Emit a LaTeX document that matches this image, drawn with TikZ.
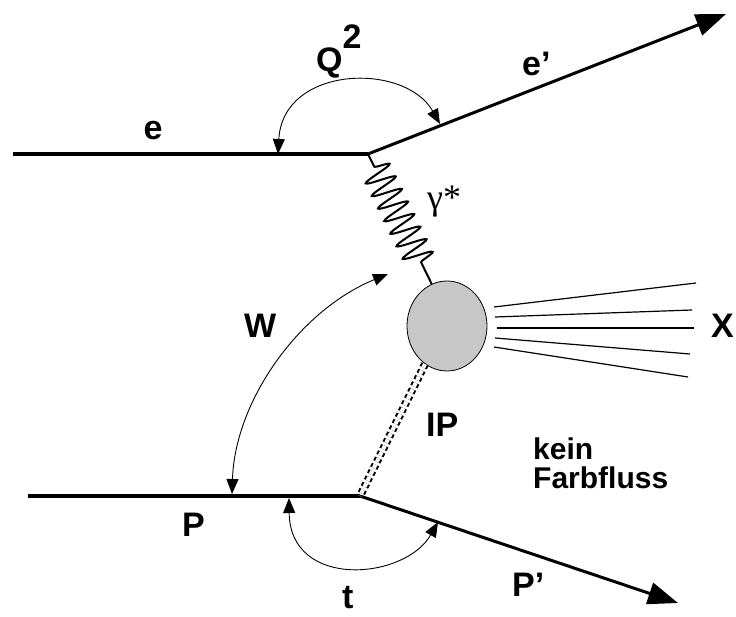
\documentclass[tikz,border=0pt]{standalone}
\usepackage{fontspec}
\setmainfont{Liberation Sans}
\newfontfamily\greekfont{Liberation Serif}
\usetikzlibrary{arrows.meta,decorations.pathmorphing,shapes.geometric}

\begin{document}
\begin{tikzpicture}[x=1pt,y=-1pt,
	every node/.style={font=\fontsize{34}{36}\selectfont\bfseries, inner sep=0pt},
	lepton/.style={line width=3.2pt},
	outgoing/.style={line width=3pt, -{Triangle[length=30pt,width=22pt]}},
	kin/.style={line width=0.9pt, {Triangle[length=15pt,width=12pt]}-{Triangle[length=15pt,width=12pt]}},
	jet/.style={line width=1.2pt},
	small/.style={font=\fontsize{30}{32}\selectfont\bfseries}]
	\useasboundingbox (0,0) rectangle (736,617);
	% vertices and line ends
	\coordinate (ein) at (13,154);
	\coordinate (evtx) at (368,154);
	\coordinate (eout) at (726,14);
	\coordinate (pin) at (28,496);
	\coordinate (pvtx) at (360,496);
	\coordinate (pout) at (678,603);
	% the blob
	\node[draw, ellipse, fill=black!22, line width=0.8pt, minimum width=80pt, minimum height=90pt] (blob) at (447,326) {};
	% leptons and protons
	\draw[lepton] (ein) -- (evtx);
	\draw[outgoing] (evtx) -- (eout);
	\draw[lepton] (pin) -- (pvtx);
	\draw[outgoing] (pvtx) -- (pout);
	% photon and pomeron
	\draw[line width=2pt, decorate, decoration={snake, amplitude=15pt, segment length=14pt, pre length=14pt, post length=19pt}] (evtx) -- (blob.110);
	\draw[line width=2pt, double, double distance=4pt, dash pattern=on 4pt off 3pt] (blob.240) -- (pvtx);
	% hadronic final state
	\foreach \xa/\ya/\xb/\yb [count=\i] in {494/307/696/283, 495/317/692/310, 497/328/694/328, 495/338/690/354, 494/347/688/377} {
		\coordinate (xs\i) at (\xa,\ya);
		\coordinate (xe\i) at (\xb,\yb);
		\draw[jet] (xs\i) -- (xe\i);
	}
	\fill (563,328) circle (1.3pt);
	% kinematic arcs
	\coordinate (q2a) at (278,154);
	\coordinate (q2b) at (440,124);
	\draw[kin] (q2a) .. controls (283,65) and (405,62) .. (q2b);
	\coordinate (wa) at (388,274);
	\coordinate (wb) at (232,494);
	\draw[kin] (wa) .. controls (300,310) and (235,400) .. (wb);
	\coordinate (ta) at (289,498);
	\coordinate (tb) at (438,522);
	\draw[kin] (ta) .. controls (290,590) and (405,580) .. (tb);
	% labels
	\node[anchor=base] (le) at (153,140) {e};
	\node[anchor=base west] (leout) at (522,76) {e’};
	\node[anchor=base west] (lq) at (316,72) {Q\raisebox{23pt}{2}};
	\node[anchor=base west, font=\greekfont\fontsize{36}{38}\selectfont] (lgam) at (427,210) {γ*};
	\node[anchor=base west] (lw) at (244,338) {W};
	\node[anchor=base west] (lx) at (711,338) {X};
	\node[anchor=base west] (lip) at (426,436) {IP};
	\node[anchor=base west, small] (kein) at (533,459) {kein};
	\node[anchor=base west, small] (farb) at (533,488) {Farbfluss};
	\node[anchor=base west] (lp) at (182,536) {P};
	\node[anchor=base west] (lt) at (342,608) {t};
	\node[anchor=base west] (lpout) at (512,596) {P’};
\end{tikzpicture}
\end{document}
